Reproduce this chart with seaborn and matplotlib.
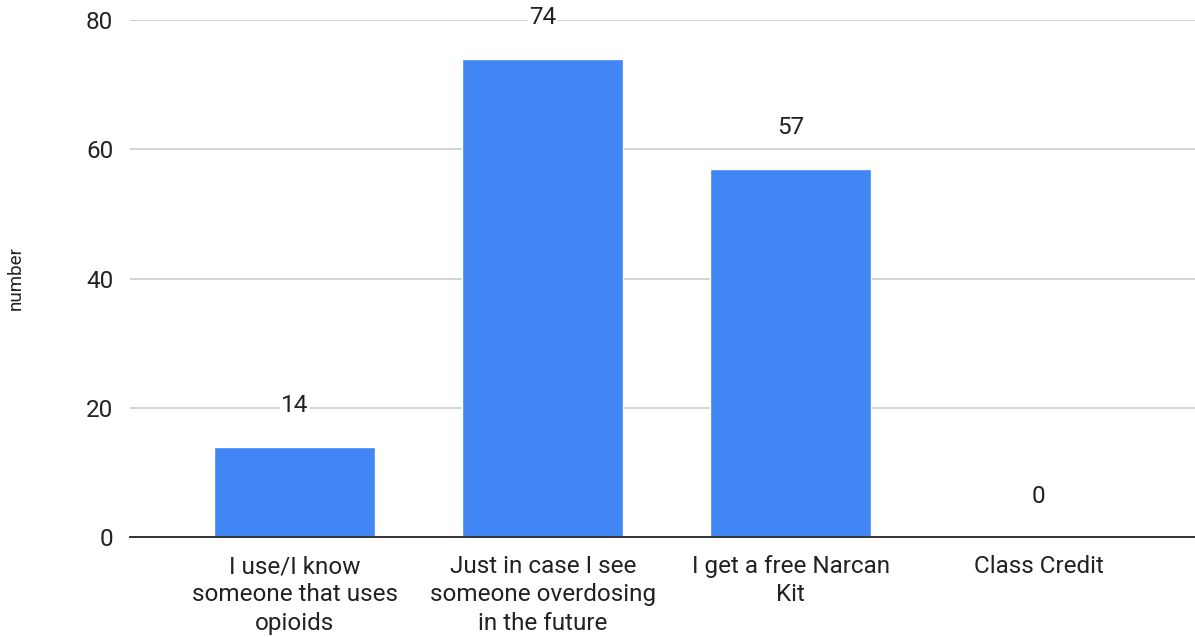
import textwrap
import matplotlib
matplotlib.use("Agg")
import matplotlib.pyplot as plt
import seaborn as sns
import pandas as pd

categories = ["I use/I know someone that uses opioids",
              "Just in case I see someone overdosing in the future",
              "I get a free Narcan Kit",
              "Class Credit"]
values = [14, 74, 57, 0]
y_ticks = [0, 20, 40, 60, 80]

sns.set_style("white")
plt.rcParams['font.family'] = ['Roboto', 'DejaVu Sans']

df = pd.DataFrame({"category": categories, "number": values})

fig = plt.figure(figsize=(11.95, 6.37), dpi=100)
ax = fig.add_axes([130/1195, 100/637, 1 - 130/1195, 517/637])

sns.barplot(data=df, x="category", y="number", color="#4285F4", width=0.65,
            saturation=1, ax=ax, zorder=3)

ax.set_xlim(-0.665, 3.63)
ax.set_ylim(0, 80)
ax.set_yticks(y_ticks)
ax.yaxis.grid(True, color="#cccccc", linewidth=1.2, zorder=0)
ax.set_axisbelow(True)
for s in ["left", "right", "top"]:
    ax.spines[s].set_visible(False)
ax.spines["bottom"].set_color("#333333")
ax.spines["bottom"].set_linewidth(1.4)
ax.spines["bottom"].set_zorder(4)

ax.set_xticks(range(len(categories)))
ax.set_xticklabels([textwrap.fill(c, 19) for c in categories],
                   fontsize=17.5, color="#222222", linespacing=1.3)
ax.tick_params(axis="x", length=0, pad=13)
ax.tick_params(axis="y", length=0, pad=12, labelsize=17.5, labelcolor="#222222")
ax.set_xlabel("")
ax.set_ylabel("number", fontsize=13.5, color="#222222", labelpad=44)

for p, v in zip(ax.patches, values):
    ax.annotate(f"{v}", (p.get_x() + p.get_width() / 2, p.get_height()),
                xytext=(0, 29.5), textcoords="offset points",
                ha="center", va="center", fontsize=17.5, color="#222222",
                bbox=dict(boxstyle="square,pad=0.05", fc="white", ec="none"),
                annotation_clip=False, zorder=5)

fig.savefig("out.png", dpi=100)
